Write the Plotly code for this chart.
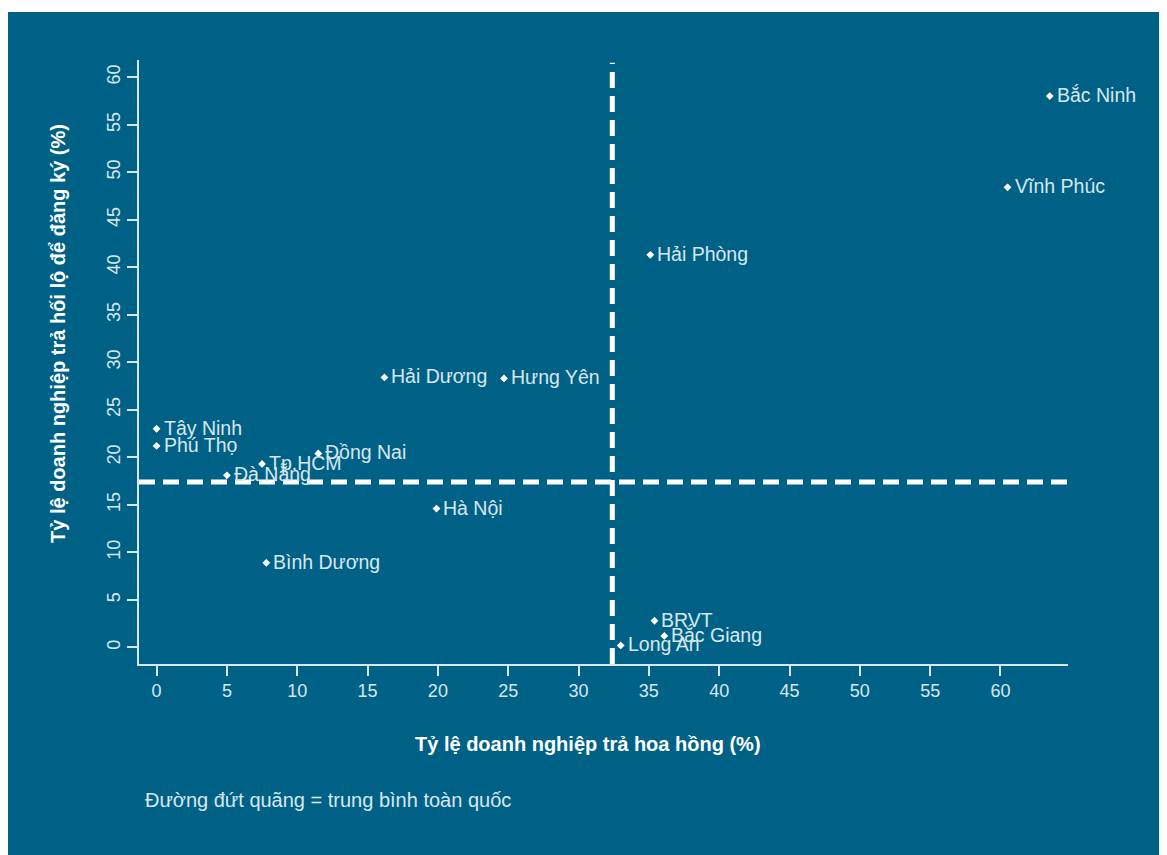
import plotly.graph_objects as go

# ---- data ----
provinces = ["Bắc Ninh", "Vĩnh Phúc", "Hải Phòng", "Hải Dương", "Hưng Yên",
             "Tây Ninh", "Phú Thọ", "Tp.HCM", "Đồng Nai", "Đà Nẵng",
             "Hà Nội", "Bình Dương", "BRVT", "Bắc Giang", "Long An"]
commission = [63.5, 60.5, 35.1, 16.2, 24.7,
              0.0, 0.0, 7.5, 11.5, 5.0,
              19.9, 7.8, 35.4, 36.1, 33.0]
bribe_registration = [58.0, 48.4, 41.3, 28.4, 28.3,
                      23.0, 21.2, 19.3, 20.4, 18.1,
                      14.6, 8.9, 2.8, 1.2, 0.2]
avg_commission = 32.4
avg_bribe = 17.4
x_ticks = list(range(0, 61, 5))
y_ticks = list(range(0, 61, 5))
x_title = "Tỷ lệ doanh nghiệp trả hoa hồng (%)"
y_title = "Tỷ lệ doanh nghiệp trả hối lộ để đăng ký (%)"
note = "Đường đứt quãng = trung bình toàn quốc"

# ---- layout geometry (pixels, figure coords; page has an 8px body margin) ----
OFF = 8
W, H = 1167 - OFF, 855 - OFF
L, R, T, B = 139 - OFF, 1068 - OFF, 60 - OFF, 664 - OFF
pw, ph = R - L, B - T
X_RANGE = [-1.25, 64.8]
Y_RANGE = [-1.75, 61.8]

def px(xp):
    return (xp - OFF - L) / pw

def py(yp):
    return (B - (yp - OFF)) / ph

BG = "#006187"
FG = "#d8e7ef"
FONT = "Liberation Sans"

fig = go.Figure()
fig.add_trace(go.Scatter(
    x=commission, y=bribe_registration,
    mode="markers",
    marker=dict(symbol="diamond", size=6, color="white"),
    cliponaxis=False, hoverinfo="skip", showlegend=False,
))

shapes = [
    dict(type="rect", xref="paper", yref="paper", layer="below",
         x0=px(8), x1=px(1167 + 5), y0=py(855 + 5), y1=py(12),
         fillcolor=BG, line=dict(width=0)),
    dict(type="line", xref="x", yref="y", x0=avg_commission, x1=avg_commission,
         y0=Y_RANGE[0], y1=61.5, line=dict(color="white", width=5, dash="16px,8px")),
    dict(type="line", xref="x", yref="y", x0=X_RANGE[0], x1=X_RANGE[1],
         y0=avg_bribe, y1=avg_bribe, line=dict(color="white", width=5, dash="16px,8px")),
]

annotations = [
    dict(text=name, x=xv, y=yv, xref="x", yref="y", showarrow=False,
         xanchor="left", yanchor="middle", xshift=5, yshift=1,
         font=dict(family=FONT, size=19.5, color=FG))
    for name, xv, yv in zip(provinces, commission, bribe_registration)
]
annotations += [
    dict(text=f"<b>{x_title}</b>", xref="paper", yref="paper", x=px(588), y=py(744),
         showarrow=False, xanchor="center", yanchor="middle",
         font=dict(family=FONT, size=20, color="white")),
    dict(text=f"<b>{y_title}</b>", xref="paper", yref="paper", x=px(58), y=py(334),
         showarrow=False, xanchor="center", yanchor="middle", textangle=-90,
         font=dict(family=FONT, size=20, color="white")),
    dict(text=note, xref="paper", yref="paper", x=px(143), y=py(800),
         showarrow=False, xanchor="left", yanchor="middle",
         font=dict(family=FONT, size=20, color=FG)),
]

axis_common = dict(showgrid=False, zeroline=False, showline=True, linecolor=FG, linewidth=1.5,
                   ticks="outside", ticklen=10, tickcolor=FG, tickwidth=1.5,
                   tickfont=dict(family=FONT, size=18, color=FG), fixedrange=True)

fig.update_layout(
    width=W, height=H,
    margin=dict(l=L, r=W - R, t=T, b=H - B, pad=0),
    paper_bgcolor="white", plot_bgcolor=BG,
    xaxis=dict(range=X_RANGE, tickvals=x_ticks, **axis_common),
    yaxis=dict(range=Y_RANGE, tickvals=y_ticks, tickangle=-90, **axis_common),
    shapes=shapes, annotations=annotations,
)

fig.write_html("out.html")
